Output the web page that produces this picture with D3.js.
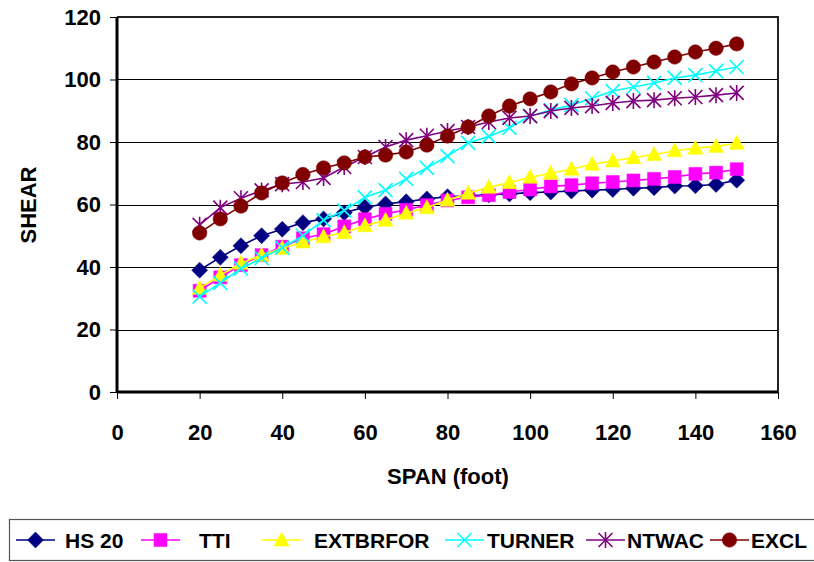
<!DOCTYPE html>
<html>
<head>
<meta charset="utf-8">
<script src="https://cdn.jsdelivr.net/npm/d3@7"></script>
<style>
  html, body { margin: 0; padding: 0; background: #fff; }
  svg { display: block; font-family: "Liberation Sans", Arial, sans-serif; font-weight: bold; }
</style>
</head>
<body>
<svg id="chart" width="814" height="562"></svg>
<script>
// Span lengths (foot)
const spans = [20, 25, 30, 35, 40, 45, 50, 55, 60, 65, 70, 75, 80, 85, 90, 95,
               100, 105, 110, 115, 120, 125, 130, 135, 140, 145, 150];

// Shear values per method
const hs20 = [39.0, 43.1, 46.8, 50.0, 52.1, 54.2, 55.4, 57.4, 59.1, 60.2, 60.9, 61.8, 62.5, 62.8,
              63.1, 63.4, 63.8, 64.0, 64.3, 64.6, 64.8, 65.2, 65.4, 65.9, 66.0, 66.4, 67.8];
const tti = [32.4, 36.7, 40.6, 43.8, 46.5, 49.2, 50.5, 53.0, 55.3, 57.0, 58.3, 59.8, 61.3, 62.3,
             63.0, 64.0, 64.8, 65.8, 66.2, 66.8, 67.2, 67.7, 68.2, 68.8, 69.8, 70.2, 71.3];
const extbrfor = [33.2, 37.4, 41.2, 43.8, 46.0, 48.0, 49.7, 51.0, 53.2, 55.0, 57.2, 59.0, 61.4, 63.6,
                  65.5, 67.0, 68.7, 70.0, 71.3, 72.9, 73.9, 75.0, 76.0, 77.2, 78.0, 78.6, 79.6];
const turner = [30.5, 34.9, 39.5, 42.8, 46.2, 50.0, 55.0, 58.1, 62.3, 64.6, 68.2, 71.7, 75.5, 79.7,
                81.8, 84.5, 88.3, 90.2, 91.8, 94.0, 96.3, 97.6, 98.9, 100.5, 101.4, 102.7, 104.0];
const ntwac = [53.5, 59.0, 62.0, 64.5, 66.5, 67.2, 68.5, 72.0, 75.2, 78.4, 80.6, 82.0, 83.5, 84.8,
               86.4, 87.7, 88.3, 89.9, 90.9, 91.5, 92.5, 93.1, 93.4, 94.0, 94.4, 95.0, 95.7];
const excl = [50.9, 55.4, 59.5, 63.7, 66.9, 69.6, 71.7, 73.3, 75.2, 75.8, 76.8, 79.0, 81.9, 84.8,
              88.3, 91.5, 93.8, 96.0, 98.6, 100.5, 102.4, 104.0, 105.6, 107.2, 108.8, 110.0, 111.4];

const seriesNames = ["HS 20", "TTI", "EXTBRFOR", "TURNER", "NTWAC", "EXCL"];
const seriesValues = [hs20, tti, extbrfor, turner, ntwac, excl];

// Axis ticks
const xTicks = [0, 20, 40, 60, 80, 100, 120, 140, 160];
const yTicks = [0, 20, 40, 60, 80, 100, 120];

// Styling per series
const colors = ["#000080", "#FF00FF", "#FFFF00", "#00FFFF", "#800080", "#800000"];
const markers = ["diamond", "square", "triangle", "x", "star", "circle"];
// Legend entry layout (line start, label start)
const legendLineX = [16, 141, 262, 445, 586, 710];
const legendTextX = [65, 199, 314, 487, 627, 751];

const svg = d3.select("#chart");
const plot = { left: 117, top: 17, right: 778, bottom: 392 };

const x = d3.scaleLinear().domain([0, 160]).range([plot.left, plot.right]);
const y = d3.scaleLinear().domain([0, 120]).range([plot.bottom, plot.top]);

// Gridlines
svg.append("g")
  .selectAll("line")
  .data(yTicks.filter(t => t > 0 && t < 120))
  .join("line")
  .attr("x1", plot.left).attr("x2", plot.right)
  .attr("y1", d => Math.round(y(d)) + 0.5).attr("y2", d => Math.round(y(d)) + 0.5)
  .attr("stroke", "#000").attr("stroke-width", 1);

// Plot frame (top and right)
svg.append("path")
  .attr("d", `M${plot.left},${plot.top}H${plot.right}V${plot.bottom}`)
  .attr("fill", "none").attr("stroke", "#222").attr("stroke-width", 2);

// Axes
const xAxis = svg.append("g")
  .attr("transform", `translate(0,${plot.bottom})`)
  .call(d3.axisBottom(x).tickValues(xTicks).tickSize(7).tickPadding(25).tickFormat(d3.format("d")));
const yAxis = svg.append("g")
  .attr("transform", `translate(${plot.left},0)`)
  .call(d3.axisLeft(y).tickValues(yTicks).tickSize(7).tickPadding(9).tickFormat(d3.format("d")));

[xAxis, yAxis].forEach(g => {
  g.select(".domain").attr("stroke", "#000").attr("stroke-width", 3);
  g.selectAll(".tick line").attr("stroke", "#000").attr("stroke-width", 1);
  g.selectAll(".tick text")
    .attr("fill", "#000")
    .style("font-family", "'Liberation Sans', Arial, sans-serif")
    .style("font-weight", "bold")
    .style("font-size", "22px");
});
xAxis.select(".domain").attr("d", `M${plot.left},0H${plot.right}`);
yAxis.select(".domain").attr("d", `M0,${plot.top}V${plot.bottom}`);
xAxis.selectAll(".tick text").attr("dy", "0.71em");

// Axis titles
svg.append("text")
  .attr("x", 448).attr("y", 484)
  .attr("text-anchor", "middle")
  .style("font-size", "22px")
  .text("SPAN (foot)");
svg.append("text")
  .attr("transform", "translate(36,205) rotate(-90)")
  .attr("text-anchor", "middle")
  .style("font-size", "22px")
  .text("SHEAR");

// Marker shapes
function markerPath(kind) {
  switch (kind) {
    case "diamond": return "M0,-8L8,0L0,8L-8,0Z";
    case "square": return "M-6.5,-6.5H6.5V6.5H-6.5Z";
    case "triangle": return "M0,-8L7.5,6L-7.5,6Z";
    case "circle": return d3.symbol(d3.symbolCircle, 165)();
    case "x": return "M-7,-7L7,7M-7,7L7,-7";
    case "star": return "M-7,-7L7,7M-7,7L7,-7M0,-8V8";
  }
}
function drawMarker(g, kind, color) {
  const stroked = kind === "x" || kind === "star";
  g.append("path")
    .attr("d", markerPath(kind))
    .attr("fill", stroked ? "none" : color)
    .attr("stroke", color)
    .attr("stroke-width", stroked ? 1.6 : 0.5);
}

// Series lines and markers, drawn in order
const line = d3.line().x(d => x(d[0])).y(d => y(d[1]));
seriesValues.forEach((vals, i) => {
  const pts = spans.map((s, j) => [s, vals[j]]);
  const g = svg.append("g");
  g.append("path")
    .attr("d", line(pts))
    .attr("fill", "none")
    .attr("stroke", colors[i])
    .attr("stroke-width", 1.6);
  pts.forEach(p => {
    const m = g.append("g").attr("transform", `translate(${x(p[0])},${y(p[1])})`);
    drawMarker(m, markers[i], colors[i]);
  });
});

// Legend
const legend = svg.append("g");
legend.append("rect")
  .attr("x", 9.5).attr("y", 519.5)
  .attr("width", 830).attr("height", 41)
  .attr("fill", "#fff").attr("stroke", "#555").attr("stroke-width", 1.2);
seriesNames.forEach((name, i) => {
  const cy = 540;
  legend.append("line")
    .attr("x1", legendLineX[i]).attr("x2", legendLineX[i] + 39)
    .attr("y1", cy).attr("y2", cy)
    .attr("stroke", colors[i]).attr("stroke-width", 1.6);
  const m = legend.append("g").attr("transform", `translate(${legendLineX[i] + 19.5},${cy})`);
  drawMarker(m, markers[i], colors[i]);
  legend.append("text")
    .attr("x", legendTextX[i]).attr("y", cy + 8)
    .style("font-size", "21px")
    .text(name);
});
</script>
</body>
</html>
